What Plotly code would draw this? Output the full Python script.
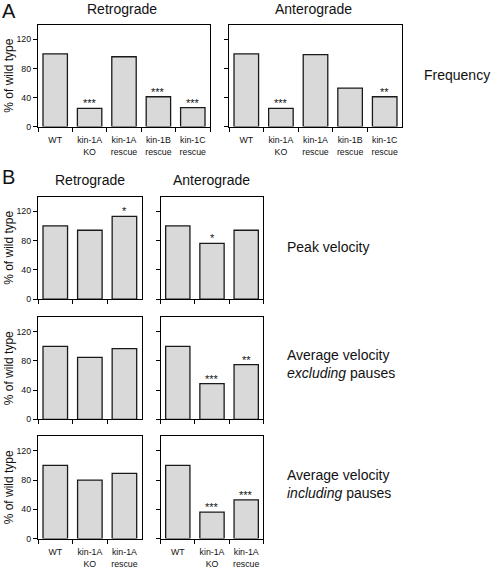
import plotly.graph_objects as go

W, H = 492, 571

cats5 = ["WT", "kin-1A<br>KO", "kin-1A<br>rescue", "kin-1B<br>rescue", "kin-1C<br>rescue"]
cats3 = cats5[:3]

freq_retro = [100, 25, 96, 41, 26]
freq_retro_sig = ["", "***", "", "***", "***"]
freq_antero = [100, 25, 99, 53, 41]
freq_antero_sig = ["", "***", "", "", "**"]

peak_retro = [100, 94, 113]
peak_retro_sig = ["", "", "*"]
peak_antero = [100, 76, 94]
peak_antero_sig = ["", "*", ""]

avgex_retro = [100, 85, 97]
avgex_retro_sig = ["", "", ""]
avgex_antero = [100, 49, 75]
avgex_antero_sig = ["", "***", "**"]

avginc_retro = [100, 80, 89]
avginc_retro_sig = ["", "", ""]
avginc_antero = [100, 36, 53]
avginc_antero_sig = ["", "***", "***"]

yticks = [0, 40, 80, 120]

FONT = "Liberation Sans, Arial, sans-serif"
BAR = "#d9d9d9"
EDGE = "#1a1a1a"
TICKSIZE = 8.8


def px_x(p):
    return p / W


def px_y(p):
    return 1 - p / H


# panel specs: (cats, values, sig, x0, x1, ytop, ybot, show_xlabels, show_ylabels)
panels = [
    (cats5, freq_retro, freq_retro_sig, 38, 210, 25, 127.7, True, True),
    (cats5, freq_antero, freq_antero_sig, 229, 402, 25, 127.7, True, False),
    (cats3, peak_retro, peak_retro_sig, 38, 141.7, 198.3, 301.7, False, True),
    (cats3, peak_antero, peak_antero_sig, 160.7, 263.3, 198.3, 301.7, False, False),
    (cats3, avgex_retro, avgex_retro_sig, 38, 141.7, 320, 423, False, True),
    (cats3, avgex_antero, avgex_antero_sig, 160.7, 263.3, 320, 423, False, False),
    (cats3, avginc_retro, avginc_retro_sig, 38, 141.7, 440, 543.3, True, True),
    (cats3, avginc_antero, avginc_antero_sig, 160.7, 263.3, 440, 543.3, True, False),
]

fig = go.Figure()
annotations = []
layout = {}
for i, (cats, vals, sig, x0, x1, yt, yb, showx, showy) in enumerate(panels):
    n = "" if i == 0 else str(i + 1)
    xa, ya = "x" + n, "y" + n
    fig.add_trace(go.Bar(
        x=cats, y=vals, xaxis=xa, yaxis=ya,
        marker=dict(color=BAR, line=dict(color=EDGE, width=1.3)),
        showlegend=False, hoverinfo="skip",
    ))
    layout["xaxis" + n] = dict(
        domain=[px_x(x0), px_x(x1)], anchor=ya, type="category",
        categoryorder="array", categoryarray=cats,
        showline=True, linecolor="black", linewidth=1.3, mirror=True,
        ticks="outside", tickson="boundaries", ticklen=4, tickcolor="black", tickwidth=1,
        showticklabels=showx, showgrid=False, zeroline=False, tickangle=0,
        ticklabelstandoff=5,
        tickfont=dict(family=FONT, size=TICKSIZE, color="#111"),
        range=[-0.5, len(cats) - 0.5], fixedrange=True,
    )
    layout["yaxis" + n] = dict(
        domain=[px_y(yb), px_y(yt)], anchor=xa, range=[0, 140],
        tickvals=yticks, showline=True, linecolor="black", linewidth=1.3, mirror=True,
        ticks="outside", ticklen=4, tickcolor="black", tickwidth=1,
        showticklabels=showy, showgrid=False, zeroline=False,
        tickfont=dict(family=FONT, size=TICKSIZE, color="#111"),
        fixedrange=True,
    )
    for c, v, s in zip(cats, vals, sig):
        if s:
            annotations.append(dict(
                x=c, y=v, xref=xa, yref=ya, text=s, showarrow=False,
                yanchor="bottom", yshift=-3,
                font=dict(family=FONT, size=11, color="#111"),
            ))
    if showy:
        annotations.append(dict(
            x=px_x(9), y=px_y((yt + yb) / 2), xref="paper", yref="paper",
            text="% of wild type", textangle=-90, showarrow=False,
            xanchor="center", yanchor="middle",
            font=dict(family=FONT, size=12, color="#111"),
        ))


def txt(text, x, y, size, xanchor="center"):
    annotations.append(dict(
        x=px_x(x), y=px_y(y), xref="paper", yref="paper", text=text,
        showarrow=False, xanchor=xanchor, yanchor="middle", align="left",
        font=dict(family=FONT, size=size, color="#111"),
    ))


txt("A", 0, 11.5, 20, "left")
txt("B", 0, 179, 20, "left")
txt("Retrograde", 122, 9.5, 14)
txt("Anterograde", 313, 9.5, 14)
txt("Retrograde", 89.5, 182, 14)
txt("Anterograde", 211.7, 182, 14)
txt("Frequency", 492, 76, 14, "right")
txt("Peak velocity", 285, 249, 14, "left")
txt("Average velocity<br><i>excluding</i> pauses", 285, 367, 14, "left")
txt("Average velocity<br><i>including</i> pauses", 285, 488, 14, "left")

fig.update_layout(
    width=W, height=H, margin=dict(l=0, r=0, t=0, b=0),
    paper_bgcolor="white", plot_bgcolor="white",
    bargap=0.29, annotations=annotations,
    font=dict(family=FONT, color="#111"),
    **layout,
)

fig.write_html(
    "out.html",
    config={"displayModeBar": False},
    post_script="document.body.style.margin='0';document.body.style.overflow='hidden';",
)
